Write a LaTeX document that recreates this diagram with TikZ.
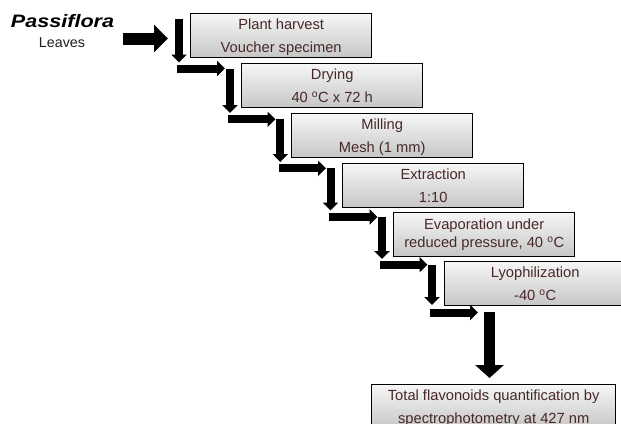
\documentclass[tikz,border=0pt]{standalone}
\usepackage{fontspec}
\setmainfont{Liberation Sans}
\usetikzlibrary{arrows.meta}
\definecolor{txtbrown}{RGB}{72,40,40}
\definecolor{boxtop}{RGB}{246,246,246}
\definecolor{boxbot}{RGB}{198,198,198}
\newcommand{\twoln}[2]{\rule{0pt}{13.9pt}#1\\#2\rule[-3.2pt]{0pt}{3.2pt}}
\newcommand{\degC}{\textsuperscript{o}C}
\begin{document}
\begin{tikzpicture}[x=1pt,y=-1pt,
  stepbox/.style={draw=black, line width=1.4pt, top color=boxtop, bottom color=boxbot,
    minimum width=181pt, minimum height=44pt, inner sep=0pt, anchor=north west,
    align=center, text=txtbrown, font=\fontsize{14.7}{22.8}\selectfont},
  flowarrow/.style={line width=8pt, -{Triangle[length=8pt,width=15pt]}},
  bigarrow/.style={line width=12pt, -{Triangle[length=14pt,width=27pt]}},
]
\useasboundingbox (0,0) rectangle (621,423);
\clip (0,0) rectangle (621,423);

% title
\node[anchor=base, font=\fontsize{18}{20}\selectfont\bfseries\itshape] (title) at (62.5,27.7) {\scalebox{1.2}[1]{Passiflora}};
\node[anchor=base, font=\fontsize{14.3}{16}\selectfont, text={rgb,255:red,30;green,30;blue,30}] (leaves) at (62,47) {Leaves};

% boxes
\node[stepbox] (b1) at (190,13) {\twoln{Plant harvest}{Voucher specimen}};
\node[stepbox] (b2) at (241,63) {\twoln{Drying}{40 \degC{} x 72 h}};
\node[stepbox] (b3) at (291,113) {\twoln{Milling}{Mesh (1 mm)}};
\node[stepbox] (b4) at (342,163) {\twoln{Extraction}{1:10}};
\node[stepbox, font=\fontsize{14.7}{17.7}\selectfont] (b5) at (393,212) {Evaporation under\\reduced pressure, 40 \degC};
\node[stepbox] (b6) at (444,261) {\twoln{Lyophilization}{-40 \degC}};
\node[stepbox, minimum width=244pt] (b7) at (371,384) {\twoln{Total flavonoids quantification by}{spectrophotometry at 427 nm}};

% junction coordinates
\coordinate (s0) at (123,38.5);
\coordinate (e0) at (168,38.5);
\coordinate (v1a) at (179,19);    \coordinate (v1b) at (179,62.5);
\coordinate (h1a) at (177,68.5);  \coordinate (h1b) at (225,68.5);
\coordinate (v2a) at (230,68.5);  \coordinate (v2b) at (230,113);
\coordinate (h2a) at (228,119.3); \coordinate (h2b) at (275.5,119.3);
\coordinate (v3a) at (280.3,119.3); \coordinate (v3b) at (280.3,162);
\coordinate (h3a) at (278.5,168.3); \coordinate (h3b) at (326,168.3);
\coordinate (v4a) at (330.5,168.3); \coordinate (v4b) at (330.5,210.5);
\coordinate (h4a) at (328.5,217); \coordinate (h4b) at (377.5,217);
\coordinate (v5a) at (382,217);   \coordinate (v5b) at (382,259);
\coordinate (h5a) at (380,264.7); \coordinate (h5b) at (427.5,264.7);
\coordinate (v6a) at (432,264.7); \coordinate (v6b) at (432,305);
\coordinate (h6a) at (430,312.5); \coordinate (h6b) at (478,312.5);
\coordinate (fa) at (489.5,312);  \coordinate (fb) at (489.5,378);

% arrows
\draw[bigarrow] (s0) -- (e0);
\draw[flowarrow] (v1a) -- (v1b);
\draw[flowarrow] (h1a) -- (h1b);
\draw[flowarrow] (v2a) -- (v2b);
\draw[flowarrow] (h2a) -- (h2b);
\draw[flowarrow] (v3a) -- (v3b);
\draw[flowarrow] (h3a) -- (h3b);
\draw[flowarrow] (v4a) -- (v4b);
\draw[flowarrow] (h4a) -- (h4b);
\draw[flowarrow] (v5a) -- (v5b);
\draw[flowarrow] (h5a) -- (h5b);
\draw[flowarrow] (v6a) -- (v6b);
\draw[flowarrow] (h6a) -- (h6b);
\draw[line width=11pt, -{Triangle[length=13pt,width=28pt]}] (fa) -- (fb);
\end{tikzpicture}
\end{document}
